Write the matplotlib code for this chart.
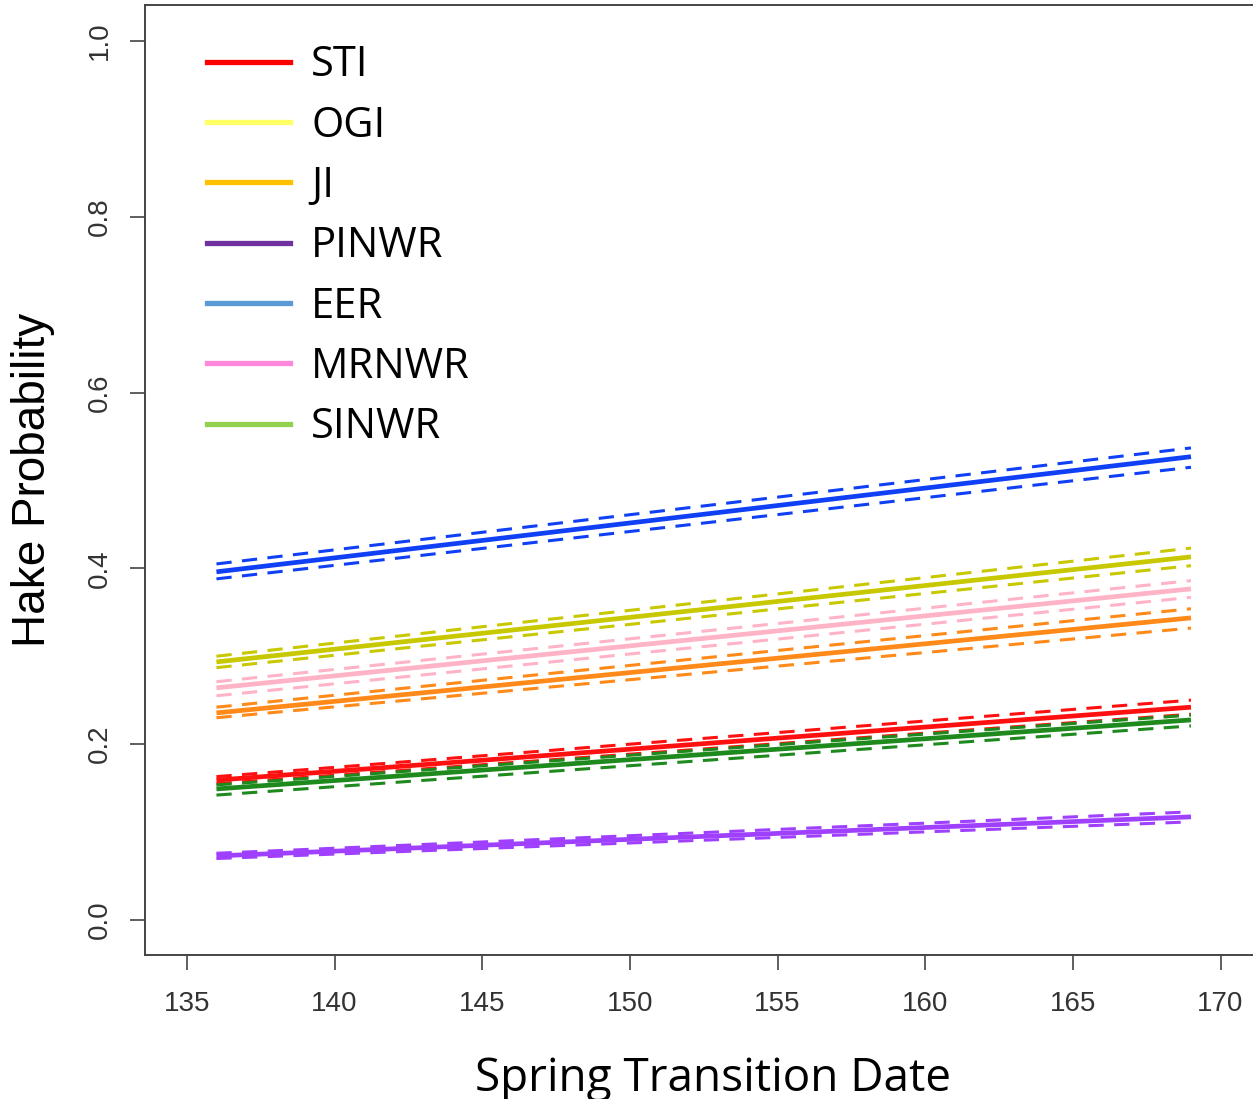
import matplotlib
matplotlib.use("Agg")
import matplotlib.pyplot as plt
from matplotlib.lines import Line2D

# --- data (fit + lower/upper bounds at both ends) ---
dates = [136, 169]

sti_fit = [0.159, 0.242]
sti_lo = [0.155, 0.234]
sti_hi = [0.163, 0.250]

ogi_fit = [0.2935, 0.413]
ogi_lo = [0.287, 0.403]
ogi_hi = [0.300, 0.423]

ji_fit = [0.2355, 0.3436]
ji_lo = [0.230, 0.332]
ji_hi = [0.242, 0.354]

pinwr_fit = [0.0728, 0.1172]
pinwr_lo = [0.0698, 0.1115]
pinwr_hi = [0.0758, 0.1229]

eer_fit = [0.396, 0.527]
eer_lo = [0.388, 0.515]
eer_hi = [0.405, 0.537]

mrnwr_fit = [0.264, 0.3766]
mrnwr_lo = [0.255, 0.367]
mrnwr_hi = [0.271, 0.386]

sinwr_fit = [0.149, 0.2275]
sinwr_lo = [0.142, 0.2207]
sinwr_hi = [0.1536, 0.233]

names = ["STI", "OGI", "JI", "PINWR", "EER", "MRNWR", "SINWR"]
# line colours in the plot
plot_cols = ["#ff1010", "#c8c800", "#ff8a1a", "#a040ff", "#1040f5", "#ffb3c6", "#1e8a1e"]
# the pasted legend uses different (office) colours
legend_cols = ["#ff0000", "#ffff66", "#ffc000", "#7030a0", "#5b9bd5", "#ff88dd", "#92d050"]

series = {
    "STI": (sti_fit, sti_lo, sti_hi),
    "OGI": (ogi_fit, ogi_lo, ogi_hi),
    "JI": (ji_fit, ji_lo, ji_hi),
    "PINWR": (pinwr_fit, pinwr_lo, pinwr_hi),
    "EER": (eer_fit, eer_lo, eer_hi),
    "MRNWR": (mrnwr_fit, mrnwr_lo, mrnwr_hi),
    "SINWR": (sinwr_fit, sinwr_lo, sinwr_hi),
}

fig = plt.figure(figsize=(12.53, 10.99), dpi=100)
ax = fig.add_axes([0.1157, 0.131, 0.8843, 0.8645])

# draw order roughly as in the picture
order = ["EER", "OGI", "MRNWR", "JI", "STI", "SINWR", "PINWR"]
for nm in order:
    c = plot_cols[names.index(nm)]
    fit, lo, hi = series[nm]
    ax.plot(dates, lo, color=c, lw=2.2, dashes=(5, 3.4))
    ax.plot(dates, hi, color=c, lw=2.2, dashes=(5, 3.4))
    ax.plot(dates, fit, color=c, lw=3.4, solid_capstyle="butt")

ax.set_xlim(133.58, 171.1)
ax.set_ylim(-0.04, 1.041)
ax.set_xticks([135, 140, 145, 150, 155, 160, 165, 170])
ax.set_yticks([0.0, 0.2, 0.4, 0.6, 0.8, 1.0])
ax.set_yticklabels(["0.0", "0.2", "0.4", "0.6", "0.8", "1.0"], rotation=90, va="center")

for side in ["left", "bottom", "top"]:
    ax.spines[side].set_color("#444444")
    ax.spines[side].set_linewidth(1.4)
ax.spines["right"].set_visible(False)

ax.tick_params(axis="both", length=10.8, width=1.2, color="#444444",
               labelcolor="#333333", labelsize=20)
ax.tick_params(axis="x", pad=15)
ax.tick_params(axis="y", pad=12)
for lab in ax.get_xticklabels() + ax.get_yticklabels():
    lab.set_family(["Liberation Sans", "DejaVu Sans"])

ax.set_ylabel("Hake Probability", fontsize=33,
              family=["Liberation Sans", "DejaVu Sans"], va="center")
ax.yaxis.set_label_coords(-0.101, 0.5)
ax.set_xlabel("Spring Transition Date", fontsize=33,
              family=["Open Sans", "DejaVu Sans"], va="center")
ax.xaxis.set_label_coords(0.513, -0.13)

handles = [Line2D([0], [0], color=c, lw=3.8) for c in legend_cols]
leg = ax.legend(handles, names, loc="upper left", bbox_to_anchor=(0.022, 0.998),
                frameon=False, handlelength=2.0, handletextpad=0.5,
                labelspacing=0.44, prop={"family": "Open Sans", "size": 30})

fig.savefig("out.png", dpi=100)
